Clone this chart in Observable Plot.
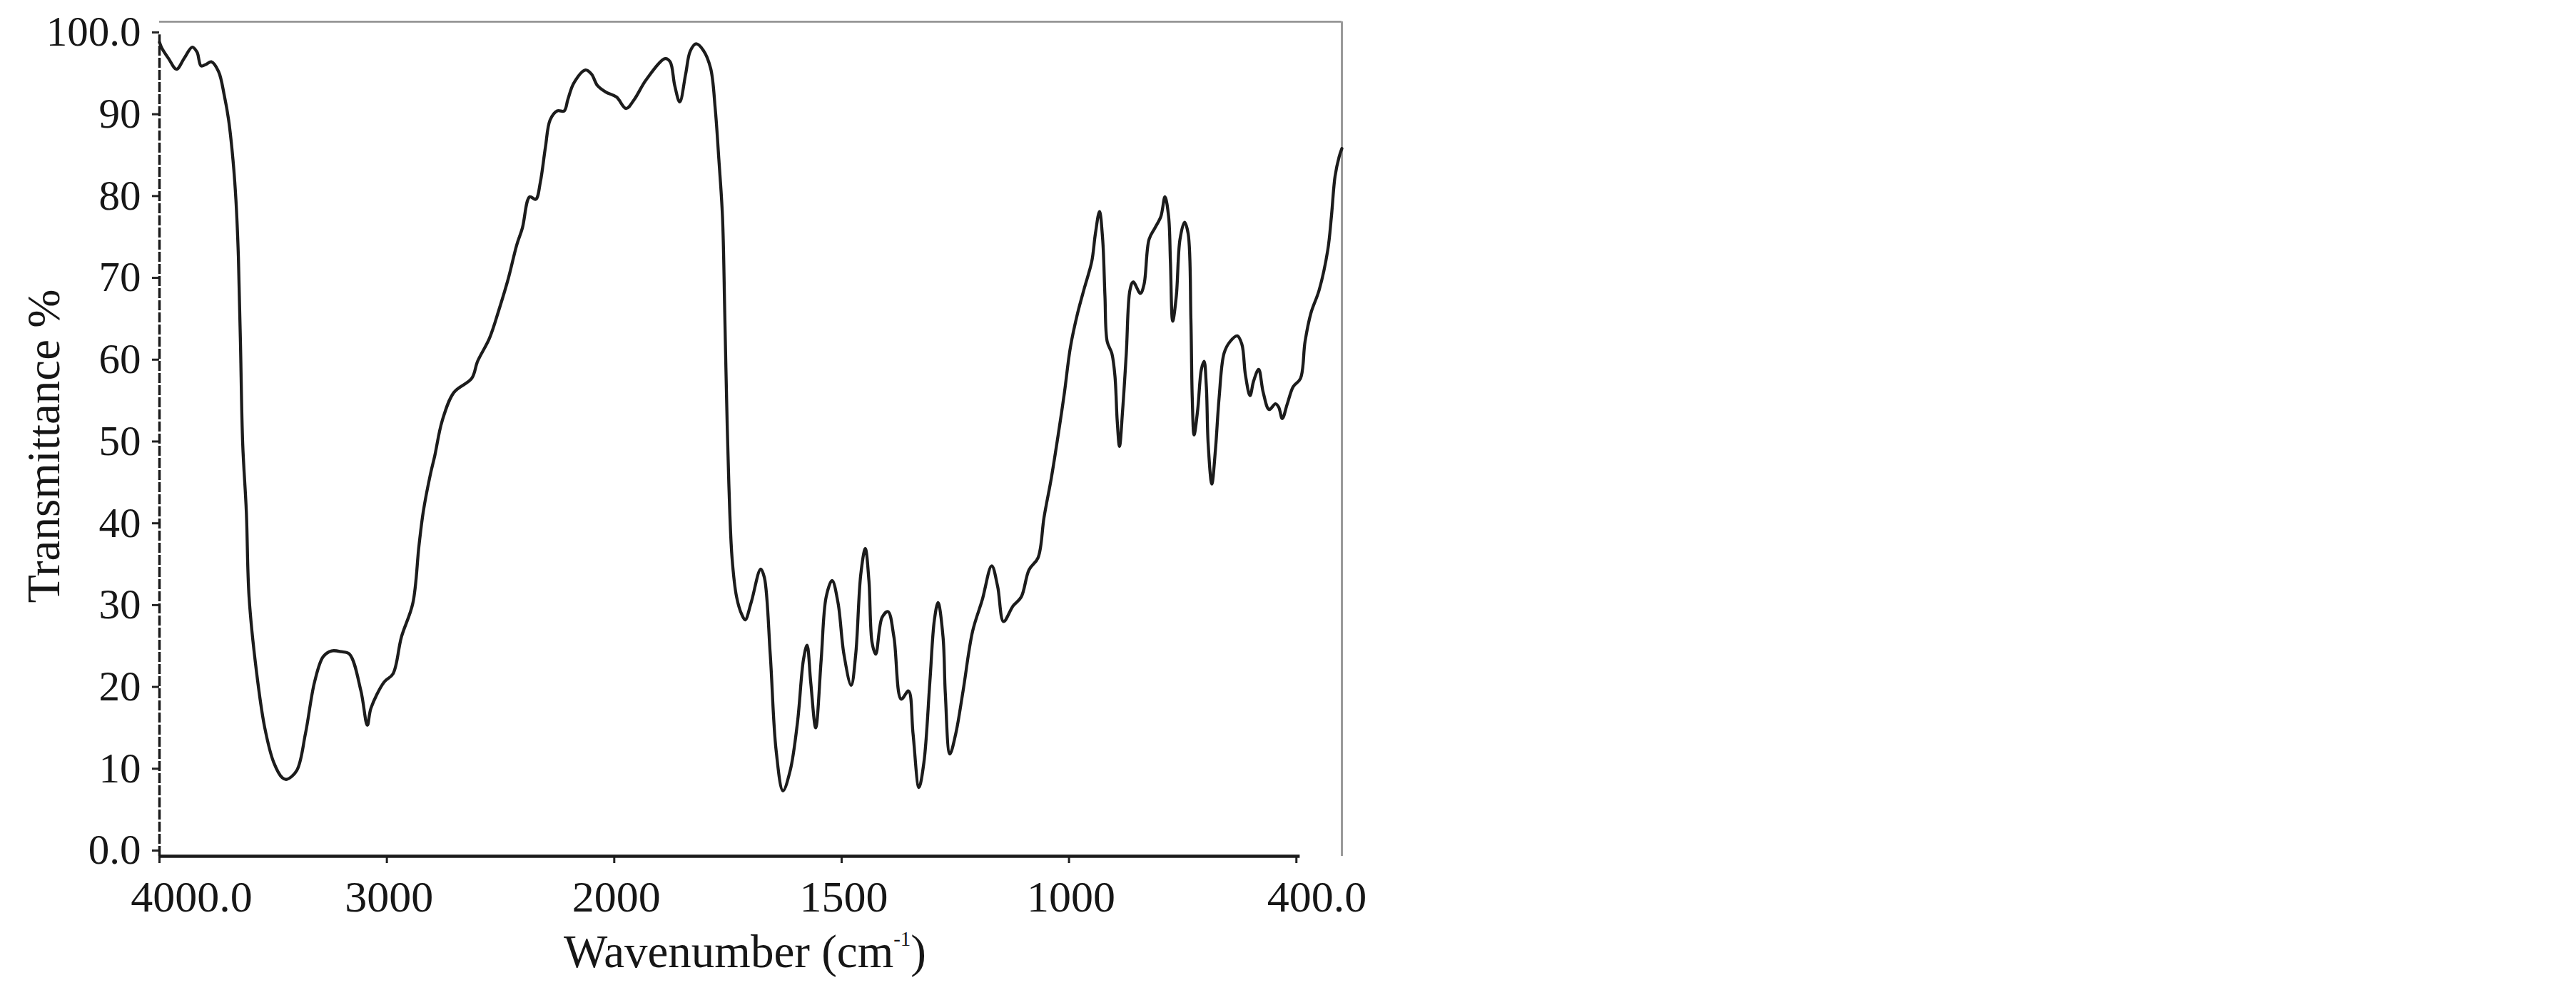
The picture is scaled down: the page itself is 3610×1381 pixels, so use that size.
<!DOCTYPE html>
<html>
<head>
<meta charset="utf-8">
<script src="https://cdn.jsdelivr.net/npm/d3@7"></script>
<script src="https://cdn.jsdelivr.net/npm/@observablehq/plot@0.6"></script>
<style>
  html, body { margin: 0; padding: 0; background: #ffffff; }
  #chart svg { display: block; }
</style>
</head>
<body>
<div id="chart"></div>
<script>
// ---- data ----
const wavenumber = [
  4000, 3990, 3960, 3925, 3890, 3856, 3835, 3817, 3795, 3772, 3740, 3715, 3696, 3677, 3664, 3653, 3644, 3634, 3618, 3606,
  3574, 3537, 3498, 3460, 3440, 3396, 3358, 3318, 3280, 3243, 3200, 3164, 3114, 3086, 3070, 3012, 2973, 2936, 2886, 2859,
  2840, 2810, 2789, 2757, 2705, 2627, 2601, 2549, 2507, 2466, 2429, 2404, 2372, 2345, 2325, 2303, 2282, 2251, 2220, 2204,
  2178, 2126, 2100, 2074, 2037, 1995, 1974, 1956, 1930, 1888, 1877, 1867, 1856, 1843, 1833, 1820, 1804, 1788, 1778, 1770,
  1762, 1757, 1753, 1748, 1741, 1731, 1720, 1712, 1699, 1678, 1670, 1657, 1644, 1629, 1613, 1597, 1584, 1576, 1568, 1557,
  1545, 1534, 1521, 1508, 1495, 1479, 1469, 1458, 1448, 1440, 1433, 1425, 1411, 1398, 1385, 1369, 1353, 1343, 1330, 1319,
  1306, 1296, 1288, 1277, 1272, 1262, 1249, 1233, 1212, 1191, 1170, 1157, 1144, 1123, 1105, 1088, 1068, 1055, 1039, 1023,
  1010, 997, 981, 966, 950, 942, 933, 926, 921, 916, 906, 899, 894, 889, 882, 874, 866, 859, 843, 835,
  824, 811, 798, 789, 781, 777, 772, 764, 756, 746, 738, 732, 729, 725, 717, 709, 703, 698, 694, 686,
  678, 670, 659, 646, 630, 620, 612, 602, 594, 583, 573, 560, 546, 539, 531, 520, 507, 491, 481, 468,
  450, 431, 423, 415, 406, 400
];
const transmittance = [
  99.5, 98.8, 97.5, 96.2, 97.6, 98.9, 98.3, 96.6, 96.8, 97.1, 95.9, 93.0, 90.0, 85.2, 80.3, 73.3, 62.9, 50.4, 42.1, 31.7,
  22.7, 15.7, 11.5, 9.6, 9.4, 10.5, 15.0, 21.3, 24.4, 25.1, 25.0, 24.7, 20.2, 16.0, 18.1, 21.3, 22.3, 26.8, 30.9, 37.9,
  42.1, 46.5, 49.0, 53.2, 56.7, 58.4, 60.5, 63.3, 66.8, 70.6, 74.7, 76.8, 80.6, 80.3, 82.4, 86.6, 90.0, 91.1, 91.1, 92.5,
  94.5, 96.1, 95.6, 94.2, 93.4, 92.8, 91.4, 92.5, 94.9, 97.5, 97.1, 94.2, 92.2, 95.6, 98.4, 99.3, 98.5, 96.3, 91.4, 85.2,
  78.2, 66.4, 56.0, 45.5, 36.5, 31.7, 29.6, 28.9, 31.0, 35.1, 34.1, 24.7, 12.9, 8.0, 10.5, 16.4, 24.0, 25.8, 21.3, 15.7,
  24.0, 31.7, 33.7, 31.0, 24.7, 20.9, 24.7, 34.4, 37.6, 33.7, 26.1, 24.7, 29.2, 29.9, 26.8, 19.2, 20.2, 15.0, 8.4, 11.5,
  21.3, 28.9, 31.0, 26.8, 19.9, 12.5, 15.0, 20.2, 27.5, 31.3, 35.5, 33.0, 28.7, 30.6, 31.7, 35.0, 36.5, 41.4, 46.2, 51.8,
  56.7, 62.2, 66.4, 69.5, 72.7, 76.1, 78.8, 75.4, 68.5, 62.9, 61.5, 58.7, 53.2, 50.1, 54.6, 61.5, 69.2, 70.2, 68.8, 69.9,
  75.4, 76.8, 78.2, 80.6, 78.2, 72.7, 65.4, 68.5, 75.4, 77.5, 76.1, 65.7, 56.0, 51.5, 54.6, 59.5, 60.5, 57.4, 50.4, 45.5,
  49.7, 56.0, 61.5, 62.9, 63.6, 62.6, 58.8, 56.3, 58.1, 59.5, 56.7, 54.6, 55.3, 54.9, 53.5, 55.3, 57.4, 58.4, 62.9, 66.4,
  69.2, 74.1, 78.2, 83.1, 85.5, 86.5
];

// axis ticks and labels
const xTickMarks = [4000, 3000, 2000, 1500, 1000, 500];
const xTickValues = [4000, 3000, 2000, 1500, 1000, 400];
const xTickLabels = ["4000.0", "3000", "2000", "1500", "1000", "400.0"];
const yTickValues = [0, 10, 20, 30, 40, 50, 60, 70, 80, 90, 100];
const yTickLabels = ["0.0", "10", "20", "30", "40", "50", "60", "70", "80", "90", "100.0"];
const xTitle = "Wavenumber (cm";
const xTitleSup = "-1";
const yTitle = "Transmittance %";

// IR spectrometer axis: 4000–2000 cm⁻¹ at half the scale of 2000–400 cm⁻¹
const axisPos = w => (w >= 2000 ? (4000 - w) / 2 : 1000 + (2000 - w));

// ---- build ----
const serif = "'Liberation Serif', 'Times New Roman', serif";
const spectrum = wavenumber.map((w, i) => ({u: axisPos(w), t: transmittance[i]}));
const yLabelOf = new Map(yTickValues.map((v, i) => [v, yTickLabels[i]]));
const xLabelRows = xTickValues.map((v, i) => ({u: axisPos(v), label: xTickLabels[i]}));
const firstLabel = xLabelRows.slice(0, 1);
const midLabels = xLabelRows.slice(1, -1);
const lastLabel = xLabelRows.slice(-1);
const U0 = axisPos(4000), U1 = axisPos(400), Ubase = axisPos(492);

const chart = Plot.plot({
  width: 3610,
  height: 1381,
  marginLeft: 223,
  marginRight: 1730,
  marginTop: 30,
  marginBottom: 181,
  style: {fontFamily: serif, background: "#ffffff", color: "#161616"},
  x: {domain: [U0, U1]},
  y: {domain: [0, 102]},
  marks: [
    // top and right frame (thin grey)
    Plot.ruleY([102], {x1: U0, x2: U1, stroke: "#8c8c8c", strokeWidth: 2.5}),
    Plot.ruleX([U1], {y1: 0, y2: 102, stroke: "#9a9a9a", strokeWidth: 3}),
    // y axis ticks + labels
    Plot.axisY(yTickValues, {
      tickSize: 10, tickPadding: 16, tickFormat: d => yLabelOf.get(d),
      fontSize: 59, dy: -8, label: null, stroke: "#222", strokeWidth: 3, fill: "#161616"
    }),
    // x axis tick marks (labels drawn separately)
    Plot.axisX(xTickMarks.map(axisPos), {
      tickSize: 10, tickFormat: () => "", label: null, stroke: "#222", strokeWidth: 3
    }),
    // left axis and baseline (dark, slightly broken like the scan)
    Plot.ruleX([U0], {y1: 0, y2: 100.4, stroke: "#1a1a1a", strokeWidth: 3.5, strokeDasharray: "14,3"}),
    Plot.ruleY([0], {x1: U0, x2: Ubase, stroke: "#1a1a1a", strokeWidth: 4.5}),
    // spectrum
    Plot.line(spectrum, {
      x: "u", y: "t", curve: "catmull-rom",
      stroke: "#1c1c1c", strokeWidth: 4.3, strokeLinejoin: "round"
    }),
    // x tick labels
    Plot.text(firstLabel, {x: "u", text: "label", frameAnchor: "bottom", dy: 77, dx: 45, fontSize: 62, fill: "#161616"}),
    Plot.text(midLabels, {x: "u", text: "label", frameAnchor: "bottom", dy: 77, dx: 3, fontSize: 62, fill: "#161616"}),
    Plot.text(lastLabel, {x: "u", text: "label", frameAnchor: "bottom", dy: 77, dx: -35, fontSize: 62, fill: "#161616"}),
    // axis titles
    Plot.text([xTitle], {frameAnchor: "bottom", dy: 155, dx: -8, fontSize: 65, fill: "#161616", text: d => d}),
    Plot.text([yTitle], {frameAnchor: "left", textAnchor: "middle", dx: -161, dy: 10, rotate: -90, fontSize: 65, fill: "#161616", text: d => d})
  ]
});

document.getElementById("chart").appendChild(chart);

// superscript on the x title: "Wavenumber (cm⁻¹)"
d3.select(chart).selectAll("text").each(function() {
  if (this.textContent === xTitle) {
    const t = d3.select(this);
    t.text(null);
    t.append("tspan").text(xTitle);
    t.append("tspan").attr("font-size", 29).attr("dy", -30).text(xTitleSup);
    t.append("tspan").attr("dy", 30).text(")");
  }
});
</script>
</body>
</html>
